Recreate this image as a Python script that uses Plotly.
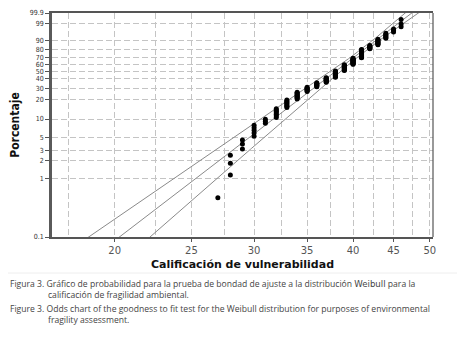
import numpy as np
import plotly.graph_objects as go

# ---- data ----
scores = [27, 28, 29, 30, 31, 32, 33, 34, 35, 36, 37, 38, 39, 40, 41, 42, 43, 44, 45, 46]
counts = [1, 3, 3, 5, 3, 7, 8, 9, 7, 7, 9, 13, 13, 14, 18, 7, 9, 6, 3, 3]

y_tick_pct = [0.1, 1, 2, 3, 5, 10, 20, 30, 40, 50, 60, 70, 80, 90, 99, 99.9]
y_tick_text = ["0.1", "1", "2", "3", "5", "10", "20", "30", "40", "50", "60", "70", "80", "90", "99", "99.9"]
x_tick_vals = [20, 25, 30, 35, 40, 45, 50]
x_grid_vals = [17.5, 20, 22.5, 25, 27.5, 30, 32.5, 35, 37.5, 40, 42.5, 45, 47.5, 50]

# fitted Weibull line and 95% band
weibull_shape = 10.4
weibull_scale = 39.4
band_a, band_b, band_c = 1.21e-4, -1.499e-4, 1.418e-4

x_range = [16.67, 50.47]
pct_range = [0.1, 99.9]


def wb(p):
    p = np.asarray(p, dtype=float) / 100.0
    return np.log(-np.log(1.0 - p))


# plotting positions (median ranks)
values = np.repeat(scores, counts)
n = len(values)
ranks = np.arange(1, n + 1)
pos_pct = (ranks - 0.3) / (n + 0.4) * 100

w_line = np.linspace(wb(0.05), wb(99.95), 300)
ln_fit = np.log(weibull_scale) + w_line / weibull_shape
half = np.sqrt(band_a + band_b * w_line + band_c * w_line ** 2)

line_style = dict(color="#8a8a8a", width=1)
fig = go.Figure()
fig.add_trace(go.Scatter(x=np.exp(ln_fit - half), y=w_line, mode="lines", line=line_style, hoverinfo="skip"))
fig.add_trace(go.Scatter(x=np.exp(ln_fit), y=w_line, mode="lines", line=line_style, hoverinfo="skip"))
fig.add_trace(go.Scatter(x=np.exp(ln_fit + half), y=w_line, mode="lines", line=line_style, hoverinfo="skip"))
fig.add_trace(go.Scatter(x=values, y=wb(pos_pct), mode="markers",
                         marker=dict(color="black", size=5, symbol="circle")))

GRID = "#c4c4c4"
DASH = "6px,3px"
tick_font = dict(family="DejaVu Sans, Verdana, sans-serif", size=10, color="#555")
fig.update_xaxes(
    type="log", range=[np.log10(x_range[0]), np.log10(x_range[1])], automargin=False,
    tickmode="array", tickvals=x_tick_vals, ticktext=[str(v) for v in x_tick_vals],
    ticks="outside", ticklen=3, tickcolor="#555", tickfont=tick_font,
    showgrid=False, zeroline=False,
    showline=True, linecolor="#555", linewidth=1.5, mirror=True,
    minor=dict(tickmode="array", tickvals=x_grid_vals, showgrid=True,
               gridcolor=GRID, griddash=DASH, gridwidth=1, ticks=""),
    title=dict(text="<b>Calificación de vulnerabilidad</b>",
               font=dict(family="DejaVu Sans, Verdana, sans-serif", size=11, color="#111"),
               standoff=6),
)
fig.update_yaxes(
    range=[float(wb(pct_range[0])), float(wb(pct_range[1]))], automargin=False,
    tickmode="array", tickvals=wb(y_tick_pct).tolist(), ticktext=y_tick_text,
    ticks="outside", ticklen=4, tickcolor="#555",
    tickfont=dict(family="DejaVu Sans Condensed, DejaVu Sans, sans-serif", size=7, color="#333"),
    showgrid=True, gridcolor=GRID, griddash=DASH, gridwidth=1,
    zeroline=False, showline=True, linecolor="#5a5a5a", linewidth=2.5, mirror=False,
    title=dict(text="<b>Porcentaje</b>",
               font=dict(family="Liberation Sans Narrow, DejaVu Sans Condensed, Arial Narrow, sans-serif",
                         size=12, color="#111"),
               standoff=10),
)

# the page body adds an 8px margin; the figure is laid out in page pixels minus 8
OFF = 8
W, H = 449, 321
L, T = 52 - OFF, 13 - OFF
R = W - (433 - OFF)
B = H - (237 - OFF)
pw, ph = W - L - R, H - T - B


def px(xp):
    return (xp - OFF - L) / pw


def py(yp):
    return (H - B - (yp - OFF)) / ph


shapes = [
    dict(type="line", xref="paper", yref="paper", x0=1, x1=1, y0=0, y1=1,
         line=dict(color="#555", width=1.2)),
    dict(type="line", xref="paper", yref="paper", x0=px(OFF), x1=px(OFF + W), y0=py(273), y1=py(273),
         line=dict(color="#eeeeee", width=1)),
]

cap_font = dict(family="Open Sans, Lato, sans-serif", size=8.6, color="#444")
captions = [
    (OFF, 284, "Figura 3. Gráfico de probabilidad para la prueba de bondad de ajuste a la distribución "
               "<span style='font-family:DejaVu Sans'>Weibull</span> para la"),
    (46, 295, "calificación de fragilidad ambiental."),
    (OFF, 309, "Figure 3. Odds chart of the goodness to fit test for the Weibull distribution for purposes of environmental"),
    (46, 320, "fragility assessment."),
]
annotations = [
    dict(xref="paper", yref="paper", x=px(xp), y=py(yp), text=t, showarrow=False,
         xanchor="left", yanchor="middle", font=cap_font)
    for xp, yp, t in captions
]

fig.update_layout(
    width=W, height=H, margin=dict(l=L, r=R, t=T, b=B),
    paper_bgcolor="white", plot_bgcolor="white", showlegend=False,
    shapes=shapes, annotations=annotations,
)
fig.write_html("out.html")
